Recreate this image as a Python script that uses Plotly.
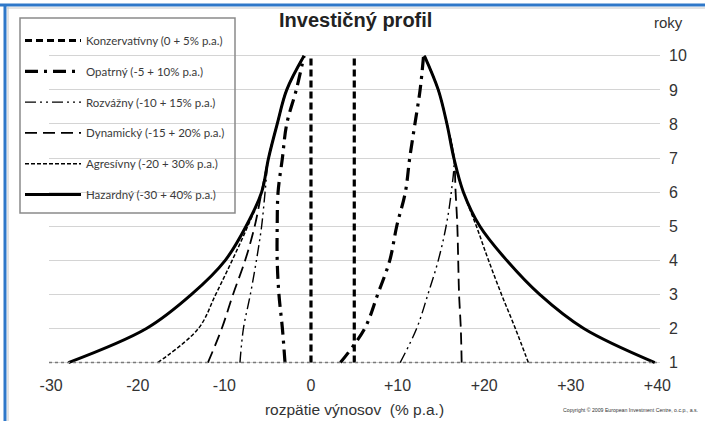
import plotly.graph_objects as go

years = [1, 2, 3, 4, 5, 6, 7, 8, 9, 10]

series_names = [
    "Konzervatívny (0 + 5% p.a.)",
    "Opatrný (-5 + 10% p.a.)",
    "Rozvážny (-10 + 15% p.a.)",
    "Dynamický (-15 + 20% p.a.)",
    "Agresívny (-20 + 30% p.a.)",
    "Hazardný (-30 + 40% p.a.)",
]

# lower bound (left branch) of return range per year
konz_low = [0, 0, 0, 0, 0, 0, 0, 0, 0, 0]
opat_low = [-3.0, -3.3, -3.7, -3.9, -3.9, -3.8, -3.3, -2.8, -1.7, -0.8]
rozv_low = [-8.2, -7.8, -7.0, -6.3, -5.7, -5.3, -4.9, -3.9, -2.8, -0.8]
dyna_low = [-11.9, -10.3, -9.0, -7.6, -6.5, -5.7, -4.9, -3.9, -2.8, -0.8]
agre_low = [-17.7, -13.0, -11.0, -9.1, -7.3, -5.7, -4.9, -3.9, -2.8, -0.8]
haza_low = [-28.0, -19.0, -13.8, -9.9, -7.5, -5.7, -4.9, -3.9, -2.8, -0.8]

# upper bound (right branch) of return range per year
konz_high = [5, 5, 5, 5, 5, 5, 5, 5, 5, 5]
opat_high = [3.4, 6.2, 7.7, 9.1, 9.9, 10.9, 11.4, 12.0, 12.6, 13.0]
rozv_high = [10.3, 12.2, 13.5, 14.7, 15.6, 16.2, 16.5, 15.7, 14.7, 13.1]
dyna_high = [17.4, 17.3, 17.1, 17.0, 16.9, 16.7, 16.5, 15.7, 14.7, 13.1]
agre_high = [25.1, 23.6, 22.0, 20.5, 19.1, 17.6, 16.5, 15.7, 14.7, 13.1]
haza_high = [39.7, 31.5, 26.4, 22.6, 19.5, 17.6, 16.5, 15.7, 14.7, 13.1]

x_tickvals = [-30, -20, -10, 0, 10, 20, 30, 40]
x_ticktext = ["-30", "-20", "-10", "0", "+10", "+20", "+30", "+40"]

lows = [konz_low, opat_low, rozv_low, dyna_low, agre_low, haza_low]
highs = [konz_high, opat_high, rozv_high, dyna_high, agre_high, haza_high]

styles = [
    dict(width=3.2, dash="7px,4px"),
    dict(width=3.2, dash="13px,6px,3px,6px"),
    dict(width=1.4, dash="11px,4px,2px,4px,2px,4px"),
    dict(width=1.8, dash="12px,6px"),
    dict(width=1.5, dash="4px,2px"),
    dict(width=3.0, dash="solid"),
]
shapes_line = ["linear", "spline", "spline", "spline", "spline", "spline"]

W, H = 705, 421
ML, MR, MT, MB = 49, 45, 49, 55
PW, PH = W - ML - MR, H - MT - MB


def px_x(p):
    return (p - ML) / PW


def px_y(p):
    return (H - MB - p) / PH


fig = go.Figure()
for i, name in enumerate(series_names):
    xs = lows[i] + [None] + highs[i]
    ys = years + [None] + years
    fig.add_trace(go.Scatter(
        x=xs, y=ys, mode="lines", name=name,
        line=dict(color="black", shape=shapes_line[i], smoothing=1.0, **styles[i]),
        legendgroup=f"g{i}", connectgaps=False, hoverinfo="skip",
    ))

fig.update_layout(
    width=W, height=H,
    margin=dict(l=ML, r=MR, t=MT, b=MB, autoexpand=False),
    paper_bgcolor="white", plot_bgcolor="white",
    showlegend=True,
    font=dict(family="Liberation Sans, Arial, sans-serif", color="#333333"),
    legend=dict(
        x=px_x(20), y=px_y(26), xanchor="left", yanchor="top",
        bgcolor="rgba(0,0,0,0)", borderwidth=0,
        font=dict(family="Lato, sans-serif", size=11.5, color="#3a3a3a"),
        tracegroupgap=11.8, itemwidth=56,
    ),
    xaxis=dict(
        range=[-30.25, 40.3], tickvals=x_tickvals, ticktext=x_ticktext,
        showgrid=False, zeroline=False, showline=False, ticks="",
        tickfont=dict(size=16, color="#333333"), ticklabelstandoff=8,
        title=dict(text="rozpätie výnosov  (% p.a.)",
                   font=dict(size=15.5, color="#333333"), standoff=11),
        automargin=False, fixedrange=True,
    ),
    yaxis=dict(
        range=[0.9, 10.2], side="right", tickvals=years,
        showgrid=True, gridcolor="#d4d4d4", gridwidth=1.3,
        zeroline=False, showline=False, ticks="",
        tickfont=dict(size=16, color="#333333"), ticklabelstandoff=8,
        automargin=False, fixedrange=True,
    ),
    shapes=[
        # dotted baseline at year 1
        dict(type="line", xref="paper", yref="y", x0=0, x1=0.995, y0=1, y1=1,
             line=dict(color="#7a7a7a", width=1.5, dash="dot"), layer="above"),
        # legend box
        dict(type="rect", xref="paper", yref="paper",
             x0=px_x(20), x1=px_x(235), y0=px_y(213), y1=px_y(18),
             line=dict(color="#8a8a8a", width=1.5), fillcolor="rgba(255,255,255,0)"),
        # blue frame top and left
        dict(type="line", xref="paper", yref="paper",
             x0=px_x(0), x1=px_x(705), y0=px_y(5), y1=px_y(5),
             line=dict(color="#2f78c9", width=3)),
        dict(type="line", xref="paper", yref="paper",
             x0=px_x(5), x1=px_x(5), y0=px_y(421), y1=px_y(4),
             line=dict(color="#2f78c9", width=3)),
        dict(type="line", xref="paper", yref="paper",
             x0=px_x(7), x1=px_x(705), y0=px_y(8), y1=px_y(8),
             line=dict(color="#c8c8c8", width=1)),
        dict(type="line", xref="paper", yref="paper",
             x0=px_x(8), x1=px_x(8), y0=px_y(421), y1=px_y(7),
             line=dict(color="#c8c8c8", width=1)),
    ],
    annotations=[
        dict(text="<b>Investičný profil</b>", xref="paper", yref="paper",
             x=px_x(355), y=px_y(20), xanchor="center", yanchor="middle",
             showarrow=False, font=dict(size=20, color="#222222")),
        dict(text="roky", xref="paper", yref="paper",
             x=px_x(668), y=px_y(22), xanchor="center", yanchor="middle",
             showarrow=False, font=dict(size=15, color="#333333")),
        dict(text="Copyright © 2009 European Investment Centre, o.c.p., a.s.",
             xref="paper", yref="paper", x=px_x(700), y=px_y(410),
             xanchor="right", yanchor="middle", showarrow=False,
             font=dict(size=5.2, color="#333333")),
    ],
)

fig.write_html(
    "out.html",
    config={"displayModeBar": False},
    post_script="document.body.style.margin='0';document.body.style.overflow='hidden';",
)
